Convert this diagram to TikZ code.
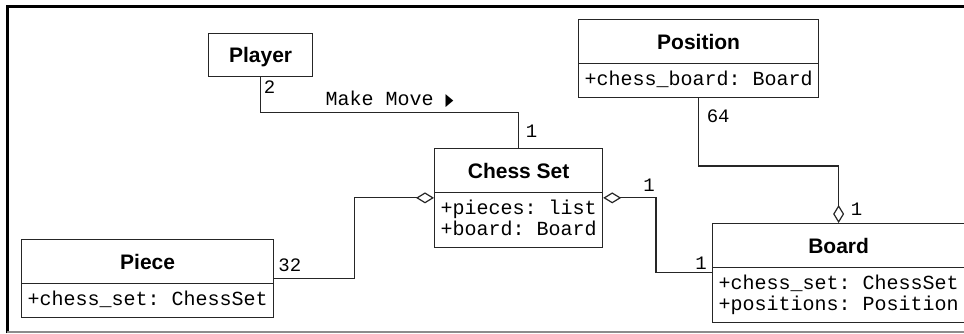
\documentclass[tikz,border=0pt]{standalone}
\usepackage{fontspec}
\usepackage{graphicx}
\usepackage{tikz}
\usetikzlibrary{positioning, shapes.multipart, arrows.meta}
\newfontfamily\titlefont{Liberation Sans}
\newfontfamily\monofont{Liberation Mono}
\newfontfamily\symbolfont{DejaVu Sans}
\newcommand{\classtitle}[1]{{\titlefont\bfseries\fontsize{21}{25}\selectfont #1}\rule[-10pt]{0pt}{35pt}}
\newcommand{\classattrs}[1]{\begin{tabular}{@{}l@{}}\rule{0pt}{17.5pt}#1\rule[-7pt]{0pt}{0pt}\end{tabular}}
\newcommand{\movearrow}{\scalebox{0.6}[1]{\symbolfont\fontsize{17}{17}\selectfont ▶}}
\tikzset{
    uml-class/.style = {draw=black!85, line width=1.2pt, rectangle split, rectangle split parts=2, rectangle split part align={center, left}, inner xsep=6pt, inner ysep=4pt, anchor=north west, font=\monofont\fontsize{20}{20.5}\selectfont\frenchspacing},
    uml-box/.style = {draw=black!85, line width=1.2pt, inner ysep=4pt, minimum width=104pt, anchor=north west},
    link/.style = {draw=black!85, line width=1.2pt},
    aggr/.style = {link, -{Diamond[fill=white, length=18pt, width=11pt]}},
    link-label/.style = {font=\monofont\fontsize{20}{20}\selectfont, inner sep=0pt},
    mult/.style = {font=\monofont\fontsize{19}{19}\selectfont, inner sep=0pt},
}
\begin{document}
\begin{tikzpicture}[x=1pt, y=-1pt]
\useasboundingbox (0,0) rectangle (964,334);
% frame
\draw[line width=3pt] (7,333) -- (7,6.5) -- (964,6.5);
\draw[black!45, line width=1.5pt] (7,332) -- (964,332);

% classes
\node[uml-box] (player) at (208,33) {\classtitle{Player}};
\node[uml-class] (position) at (578,19) {\classtitle{Position}\nodepart{two}\classattrs{+chess\_board: Board}};
\node[uml-class] (chessset) at (434,148) {\classtitle{Chess Set}\nodepart{two}\classattrs{+pieces: list\\+board: Board}};
\node[uml-class] (piece) at (21,239) {\classtitle{Piece}\nodepart{two}\classattrs{+chess\_set: ChessSet}};
\node[uml-class] (board) at (712,223) {\classtitle{Board}\nodepart{two}\classattrs{+chess\_set: ChessSet\\+positions: Position}};

% connectors
\draw[link] (player.south) -- ++(0,35) -| node[link-label, pos=0.25, above=4pt] {Make Move \movearrow} (chessset.north);
\draw[aggr] (position.south) -- ++(0,68) -| (board.north);
\draw[aggr] (piece.east) -- ++(80,0) |- (chessset.west);
\draw[aggr] (board.west) -- ++(-56,0) |- (chessset.east);

% multiplicities
\node[mult, below right=3pt and 3pt] at (player.south) {2};
\node[mult, above right=10pt and 7pt] at (chessset.north) {1};
\node[mult, below right=11pt and 8pt] at (position.south) {64};
\node[mult, above right=7pt and 12pt] at (board.north) {1};
\node[mult, above right=7pt and 4pt] at (piece.east) {32};
\node[mult, above right=6pt and 40pt] at (chessset.east) {1};
\node[mult, above left=3pt and 5pt] at (board.west) {1};
\end{tikzpicture}
\end{document}
